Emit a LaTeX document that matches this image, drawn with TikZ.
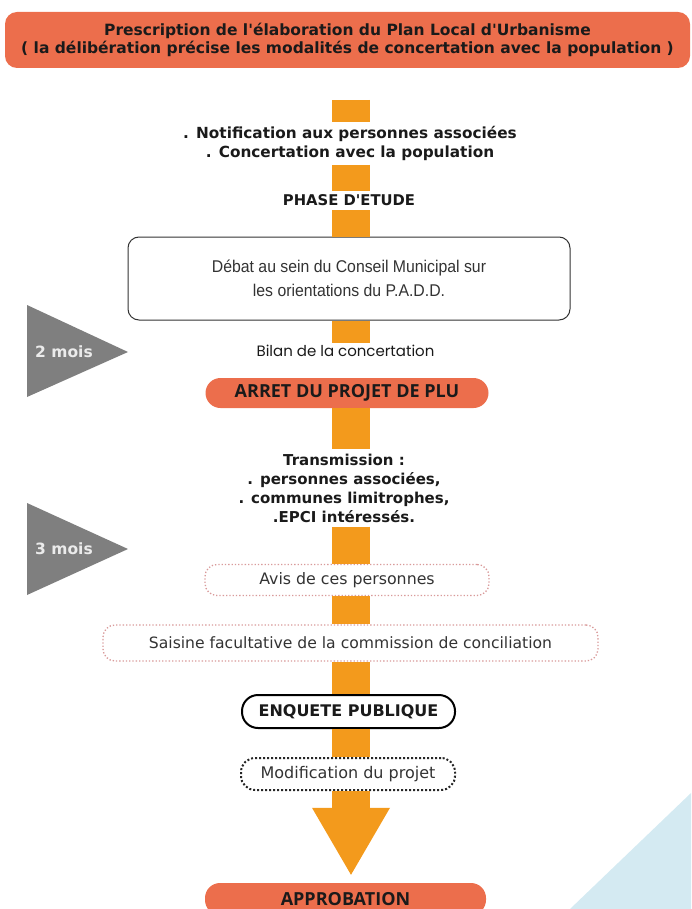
\documentclass[tikz,border=0pt]{standalone}
\usepackage{fontspec}
\setmainfont{DejaVu Sans}
\newfontfamily\dv{DejaVu Sans}
\newfontfamily\narrowf[FakeStretch=0.93]{Liberation Sans}
\newfontfamily\gothf{Poppins}
\newfontfamily\opensf{Open Sans}
\usetikzlibrary{arrows.meta,calc}
\definecolor{banner}{HTML}{EC6E4C}
\definecolor{barc}{HTML}{F39A1C}
\definecolor{tri}{HTML}{7F7F7F}
\definecolor{skyb}{HTML}{D4EAF2}
\definecolor{pinkdot}{HTML}{D99A9A}
\definecolor{txt}{HTML}{1A1A1A}
\definecolor{gtxt}{HTML}{333333}
\begin{document}
\begin{tikzpicture}[x=1pt,y=-1pt,
  bar/.style={draw=barc,line width=38pt},
  lbl/.style={align=center,text=txt,inner xsep=2pt,inner ysep=4pt},
  redpill/.style={fill=banner,rounded corners=15pt,text=txt,inner sep=0pt},
  dotbox/.style={draw=pinkdot,dotted,line width=1.3pt,fill=white,rounded corners=12pt,text=gtxt,inner sep=0pt},
  months/.style={text=white!92!black,font=\dv\fontsize{15.5}{17}\selectfont\bfseries}
]
\useasboundingbox (0,0) rectangle (691,909);
\fill[skyb] (570,909) -- (691,793) -- (691,909) -- cycle;

\coordinate (col) at (351,0);
\coordinate (start) at (351,100);

\node[redpill,rounded corners=12pt,minimum width=685pt,minimum height=56pt,align=center,
  font=\dv\fontsize{15.5}{18}\selectfont\bfseries] (top) at (347.5,40)
  {Prescription de l'élaboration du Plan Local d'Urbanisme\\( la délibération précise les modalités de concertation avec la population )};

\node[lbl,font=\dv\fontsize{15.3}{19}\selectfont\bfseries] (notif) at (350,143.5)
  {. Notification aux personnes associées\\. Concertation avec la population};
\node[lbl,font=\dv\fontsize{14.8}{16}\selectfont\bfseries] (phase) at (349,200.5) {PHASE D'ETUDE};
\node[draw=black!80,line width=1pt,fill=white,rounded corners=11pt,minimum width=442pt,minimum height=83pt,
  align=center,text=gtxt,font=\narrowf\fontsize{17}{24}\selectfont] (debat) at (349,278.5)
  {Débat au sein du Conseil Municipal sur\\les orientations du P.A.D.D.};
\node[lbl,inner ysep=2pt,font=\gothf\fontsize{15}{16}\selectfont] (bilan) at (345.5,351) {Bilan de la concertation};
\node[redpill,minimum width=283pt,minimum height=30pt,font=\opensf\fontsize{18}{20}\selectfont\bfseries] (arret) at (347,393) {ARRET DU PROJET DE PLU};
\node[lbl,font=\dv\fontsize{15}{19}\selectfont\bfseries] (trans) at (344,488)
  {Transmission :\\. personnes associées,\\. communes limitrophes,\\.EPCI intéressés.};
\node[dotbox,minimum width=284pt,minimum height=31pt,font=\dv\fontsize{15.8}{17}\selectfont] (avis) at (347,580) {Avis de ces personnes};
\node[dotbox,minimum width=495pt,minimum height=36pt,font=\dv\fontsize{15.6}{17}\selectfont] (saisine) at (350.5,643) {Saisine facultative de la commission de conciliation};
\node[draw=black,line width=2pt,fill=white,rounded corners=16pt,minimum width=213pt,minimum height=33pt,inner sep=0pt,
  text=txt,font=\dv\fontsize{16}{18}\selectfont\bfseries] (enquete) at (348.5,711.5) {ENQUETE PUBLIQUE};
\node[draw=black!85,dotted,line width=2pt,fill=white,rounded corners=14pt,minimum width=214pt,minimum height=32pt,inner sep=0pt,
  text=gtxt,font=\dv\fontsize{16}{18}\selectfont] (modif) at (348,774) {Modification du projet};
\node[redpill,minimum width=281pt,minimum height=32pt,font=\opensf\fontsize{18}{20}\selectfont\bfseries] (appro) at (345.5,899) {APPROBATION};

% orange flow bar
\draw[bar] (start) -- (col |- notif.north);
\draw[bar] (col |- notif.south) -- (col |- phase.north);
\draw[bar] (col |- phase.south) -- (col |- debat.north);
\draw[bar] (col |- debat.south) -- (col |- bilan.north);
\draw[bar] (col |- arret.south) -- (col |- trans.north);
\draw[bar] (col |- trans.south) -- (col |- avis.north);
\draw[bar] (col |- avis.south) -- (col |- saisine.north);
\draw[bar] (col |- saisine.south) -- (col |- enquete.north);
\draw[bar] (col |- enquete.south) -- (col |- modif.north);
\draw[bar,-{Triangle[width=78pt,length=67pt,line width=0pt]},shorten >=8pt] (col |- modif.south) -- (col |- appro.north);

% duration triangles
\fill[tri] (27,305) -- (128,352) -- (27,397) -- cycle;
\node[months] (m2) at (64,352) {2 mois};
\fill[tri] (27,503) -- (128,549) -- (27,595) -- cycle;
\node[months] (m3) at (64,549) {3 mois};
\end{tikzpicture}
\end{document}
